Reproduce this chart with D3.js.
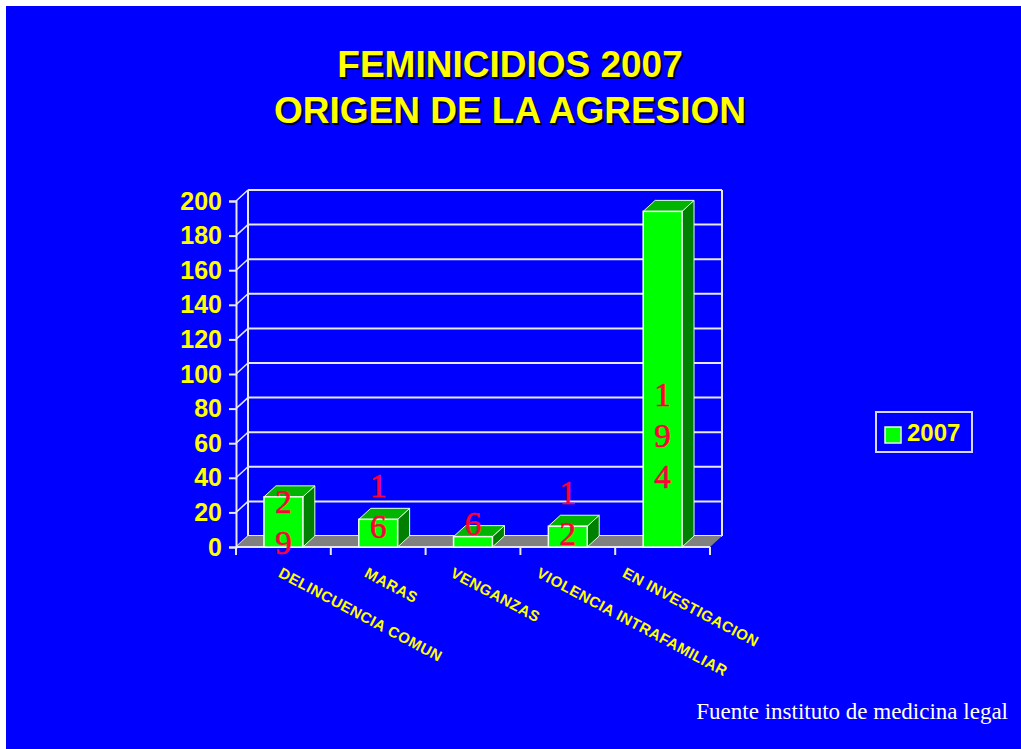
<!DOCTYPE html>
<html>
<head>
<meta charset="utf-8">
<script src="https://cdn.jsdelivr.net/npm/d3@7"></script>
<style>
  body { margin: 0; background: #ffffff; }
  svg { display: block; }
</style>
</head>
<body>
<div id="chart"></div>
<script>
// data
var categories = ["DELINCUENCIA COMUN", "MARAS", "VENGANZAS", "VIOLENCIA INTRAFAMILIAR", "EN INVESTIGACION"];
var values2007 = [29, 16, 6, 12, 194];
var yTicks = [0, 20, 40, 60, 80, 100, 120, 140, 160, 180, 200];
var seriesName = "2007";
var titleLines = ["FEMINICIDIOS 2007", "ORIGEN DE LA AGRESION"];
var sourceNote = "Fuente instituto de medicina legal";

var W = 1021, H = 749;
var depthX = 12, depthY = -11;   // 3d depth offset of the wall
var yellow = "#ffff00", blue = "#0000ff", gridColor = "#e8e8f0";

var svg = d3.select("#chart")
    .append("svg")
    .attr("width", W)
    .attr("height", H);

// blue slide background
svg.append("rect")
    .attr("x", 6).attr("y", 6)
    .attr("width", W - 6).attr("height", H - 6)
    .attr("fill", blue);

// title with dark shadow
titleLines.forEach(function (t, i) {
    var ty = 77 + i * 46;
    svg.append("text")
        .attr("x", 512).attr("y", ty + 2)
        .attr("text-anchor", "middle")
        .attr("font-family", "Liberation Sans, Arial, sans-serif")
        .attr("font-weight", "bold")
        .attr("font-size", 37)
        .attr("fill", "#000030")
        .text(t);
    svg.append("text")
        .attr("x", 510).attr("y", ty)
        .attr("text-anchor", "middle")
        .attr("font-family", "Liberation Sans, Arial, sans-serif")
        .attr("font-weight", "bold")
        .attr("font-size", 37)
        .attr("fill", yellow)
        .text(t);
});

// scales (front plane)
var x = d3.scaleBand()
    .domain(categories)
    .range([236, 710])
    .paddingInner(0.59)
    .paddingOuter(0.295);

var y = d3.scaleLinear()
    .domain([0, 200])
    .range([547, 201]);

var x0 = x.range()[0], x1 = x.range()[1];

// back wall gridlines
var grid = svg.append("g");
yTicks.forEach(function (t) {
    grid.append("line")
        .attr("x1", x0 + depthX).attr("x2", x1 + depthX)
        .attr("y1", y(t) + depthY).attr("y2", y(t) + depthY)
        .attr("stroke", gridColor).attr("stroke-width", 2);
    // side connector from front axis to back wall
    grid.append("line")
        .attr("x1", x0).attr("x2", x0 + depthX)
        .attr("y1", y(t)).attr("y2", y(t) + depthY)
        .attr("stroke", gridColor).attr("stroke-width", 1.5);
});
// wall verticals
[x0 + depthX, x1 + depthX].forEach(function (vx) {
    grid.append("line")
        .attr("x1", vx).attr("x2", vx)
        .attr("y1", y(200) + depthY).attr("y2", y(0) + depthY)
        .attr("stroke", gridColor).attr("stroke-width", 2);
});

// gray floor
svg.append("path")
    .attr("d", "M" + x0 + "," + y(0) + "L" + x1 + "," + y(0) +
        "L" + (x1 + depthX) + "," + (y(0) + depthY) +
        "L" + (x0 + depthX) + "," + (y(0) + depthY) + "Z")
    .attr("fill", "#808080");

// y axis (front)
var yAxis = svg.append("g")
    .attr("transform", "translate(" + x0 + ",0)")
    .call(d3.axisLeft(y).tickValues(yTicks).tickSize(7).tickPadding(7));
yAxis.select(".domain").attr("stroke", gridColor).attr("stroke-width", 2);
yAxis.selectAll(".tick line").attr("stroke", gridColor).attr("stroke-width", 2);
yAxis.selectAll(".tick text")
    .attr("fill", yellow)
    .attr("font-family", "Liberation Sans, Arial, sans-serif")
    .attr("font-weight", "bold")
    .attr("font-size", 25);

// x axis (front edge of floor)
var xTickPos = d3.range(categories.length + 1).map(function (i) { return x0 + i * x.step(); });
svg.append("line")
    .attr("x1", x0).attr("x2", x1)
    .attr("y1", y(0)).attr("y2", y(0))
    .attr("stroke", gridColor).attr("stroke-width", 2);
svg.selectAll(".xtick")
    .data(xTickPos)
    .enter().append("line")
    .attr("x1", function (d) { return d; })
    .attr("x2", function (d) { return d; })
    .attr("y1", y(0)).attr("y2", y(0) + 8)
    .attr("stroke", gridColor).attr("stroke-width", 2);

// 3d bars
var bars = svg.selectAll(".bar")
    .data(values2007)
    .enter().append("g")
    .attr("class", "bar");

bars.append("path")   // side face
    .attr("d", function (d, i) {
        var bx = x(categories[i]) + x.bandwidth();
        return "M" + bx + "," + y(d) + "L" + (bx + depthX) + "," + (y(d) + depthY) +
            "L" + (bx + depthX) + "," + (y(0) + depthY) + "L" + bx + "," + y(0) + "Z";
    })
    .attr("fill", "#008000")
    .attr("stroke", "#e0ffe0").attr("stroke-width", 1);

bars.append("path")   // top face
    .attr("d", function (d, i) {
        var bx = x(categories[i]), bw = x.bandwidth();
        return "M" + bx + "," + y(d) + "L" + (bx + bw) + "," + y(d) +
            "L" + (bx + bw + depthX) + "," + (y(d) + depthY) +
            "L" + (bx + depthX) + "," + (y(d) + depthY) + "Z";
    })
    .attr("fill", "#00b400")
    .attr("stroke", "#e0ffe0").attr("stroke-width", 1);

bars.append("rect")   // front face
    .attr("x", function (d, i) { return x(categories[i]); })
    .attr("y", function (d) { return y(d); })
    .attr("width", x.bandwidth())
    .attr("height", function (d) { return y(0) - y(d); })
    .attr("fill", "#00ff00")
    .attr("stroke", "#f0fff0").attr("stroke-width", 1.5);

// value labels: digits stacked vertically, as on the slide
var lineGap = 41;
bars.each(function (d, i) {
    var digits = String(d).split("");
    var anchorVal = d >= 100 ? d / 3 : (d >= 25 ? d / 2 : d + 8);
    var cy = y(anchorVal);
    var cx = x(categories[i]) + x.bandwidth() / 2;
    var top = cy - (digits.length - 1) * lineGap / 2;
    var g = d3.select(this);
    digits.forEach(function (ch, k) {
        g.append("text")
            .attr("x", cx)
            .attr("y", top + k * lineGap)
            .attr("dy", "0.36em")
            .attr("text-anchor", "middle")
            .attr("font-family", "Liberation Serif, Times New Roman, serif")
            .attr("font-size", 33)
            .attr("fill", "#ff0038")
            .attr("stroke", "#ff0038")
            .attr("stroke-width", 0.6)
            .text(ch);
    });
});

// rotated category labels
var labelX = d3.scalePoint().domain(categories).range([283, 627]);
svg.selectAll(".catLabel")
    .data(categories)
    .enter().append("text")
    .attr("class", "catLabel")
    .attr("transform", function (d) { return "translate(" + labelX(d) + ",566) rotate(28)"; })
    .attr("dy", "0.78em")
    .attr("font-family", "Liberation Sans, Arial, sans-serif")
    .attr("font-weight", "bold")
    .attr("font-size", 15)
    .attr("letter-spacing", 0.5)
    .attr("fill", yellow)
    .text(function (d) { return d; });

// legend
var legend = svg.append("g").attr("transform", "translate(876,412)");
legend.append("rect")
    .attr("width", 96).attr("height", 40)
    .attr("fill", blue)
    .attr("stroke", "#d8d8ff").attr("stroke-width", 2);
legend.append("rect")
    .attr("x", 9).attr("y", 15)
    .attr("width", 16).attr("height", 16)
    .attr("fill", "#00ff00")
    .attr("stroke", "#e0ffe0").attr("stroke-width", 1.5);
legend.append("text")
    .attr("x", 31).attr("y", 29)
    .attr("font-family", "Liberation Sans, Arial, sans-serif")
    .attr("font-weight", "bold")
    .attr("font-size", 24)
    .attr("fill", yellow)
    .text(seriesName);

// source note
svg.append("text")
    .attr("x", 1008).attr("y", 719)
    .attr("text-anchor", "end")
    .attr("font-family", "Liberation Serif, Times New Roman, serif")
    .attr("font-size", 23)
    .attr("fill", "#ffffff")
    .text(sourceNote);
</script>
</body>
</html>
